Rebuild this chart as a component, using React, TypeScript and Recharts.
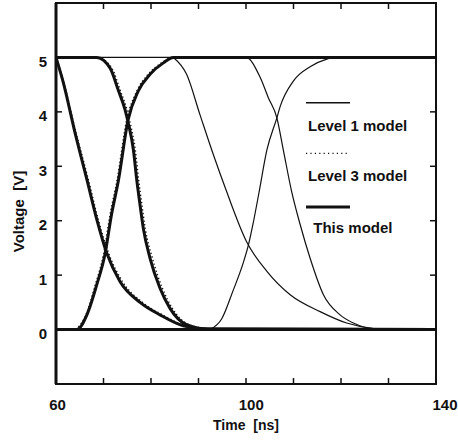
import { LineChart, Line, XAxis, YAxis, ReferenceLine, ReferenceArea, Legend, Label } from "recharts";

const FONT = "'Liberation Sans', Arial, sans-serif";
const INK = "#111";

// plot box size (frame), used to mirror tick marks on the top and right edges
const PLOT_W = 380;
const PLOT_H = 381;

const xTicks = [60, 70, 80, 90, 100, 110, 120, 130, 140];
const xLabelTicks = [60, 100, 140];
const yTicks = [0, 1, 2, 3, 4, 5];

// This model (thick)
const thisFall1T = [60, 61.5, 64, 66.5, 68.6, 70.7, 73.5, 77.7, 81.9, 86.8, 92, 140];
const thisFall1V = [5, 4.55, 3.62, 2.76, 2.02, 1.4, 0.88, 0.5, 0.27, 0.07, 0.01, 0];
const thisRiseT = [60, 64.4, 66.5, 68.6, 70.3, 71.7, 73.1, 75.2, 77.3, 79.8, 82.6, 84.7, 140];
const thisRiseV = [0, 0, 0.27, 0.83, 1.38, 2.12, 2.72, 3.86, 4.38, 4.69, 4.9, 5, 5];
const thisFall2T = [60, 68.6, 71.4, 73.1, 74.5, 75.2, 76.3, 77.0, 77.6, 78.4, 79.8, 81.9, 84.0, 87.5, 92, 140];
const thisFall2V = [5, 5, 4.8, 4.4, 4.05, 3.8, 3.3, 2.75, 2.35, 1.85, 1.31, 0.76, 0.39, 0.09, 0.01, 0];

// Level 3 model (dotted)
const lv3Fall1T = [60, 61.6, 64.2, 66.8, 68.9, 71.1, 74.0, 78.2, 82.4, 87.3, 92.5];
const lv3Fall1V = [5, 4.55, 3.62, 2.76, 2.02, 1.4, 0.88, 0.5, 0.27, 0.07, 0.01];
const lv3RiseT = [64.2, 66.3, 68.3, 70.0, 71.4, 72.8, 74.9, 77.0, 79.4, 82.2, 84.5];
const lv3RiseV = [0, 0.27, 0.83, 1.38, 2.12, 2.72, 3.86, 4.38, 4.69, 4.9, 5];
const lv3Fall2T = [68.9, 71.8, 73.5, 74.9, 75.6, 76.7, 77.4, 78.0, 78.8, 80.3, 82.4, 84.5, 88.0, 92.5];
const lv3Fall2V = [5, 4.8, 4.4, 4.05, 3.8, 3.3, 2.75, 2.35, 1.85, 1.31, 0.76, 0.39, 0.09, 0.01];

// Level 1 model (thin)
const lv1FallAT = [84.7, 87.5, 90.3, 93.1, 95.9, 100.1, 104.4, 109.3, 115.6, 121.2, 126.8, 132, 140];
const lv1FallAV = [5, 4.69, 3.95, 3.22, 2.54, 1.62, 1.07, 0.64, 0.33, 0.12, 0.02, 0, 0];
const lv1RiseT = [92.4, 94.9, 97.3, 99.4, 100.5, 101.5, 102.7, 104.4, 106.5, 107.2, 110, 113.5, 117, 118.5];
const lv1RiseV = [0, 0.2, 0.72, 1.22, 1.55, 1.95, 2.5, 3.3, 3.89, 4.1, 4.57, 4.83, 4.97, 5];
const lv1FallBT = [98, 100, 103, 104.7, 106.5, 107.9, 109.6, 111.4, 113.5, 116.3, 119.8, 122.6, 126.8, 140];
const lv1FallBV = [5, 5, 4.63, 4.26, 3.89, 3.28, 2.54, 1.93, 1.31, 0.64, 0.27, 0.12, 0.02, 0];

const pts = (t: number[], v: number[]) => t.map((x, i) => ({ t: x, v: v[i] }));

const txt = { fontFamily: FONT, fontWeight: 700, fill: INK } as const;

function BottomTick({ x, y, payload }: any) {
  const val = payload.value;
  const dx = 1.5 + ((val - 60) / 80) * 7.5;
  const inner = val !== 60 && val !== 140;
  return (
    <g>
      {inner && <line x1={x} x2={x} y1={y} y2={y - 6} stroke={INK} strokeWidth={1.5} />}
      {inner && <line x1={x} x2={x} y1={y - PLOT_H} y2={y - PLOT_H + 6} stroke={INK} strokeWidth={1.5} />}
      {xLabelTicks.includes(val) && (
        <text x={x + dx} y={y + 20} textAnchor="middle" dominantBaseline="central" fontSize={15} {...txt}>
          {val}
        </text>
      )}
    </g>
  );
}

function LeftTick({ x, y, payload }: any) {
  return (
    <g>
      <line x1={x} x2={x + 6} y1={y} y2={y} stroke={INK} strokeWidth={1.5} />
      <line x1={x + PLOT_W - 6} x2={x + PLOT_W} y1={y} y2={y} stroke={INK} strokeWidth={1.5} />
      <text x={x - 9} y={y + 4} textAnchor="end" dominantBaseline="central" fontSize={15} {...txt}>
        {payload.value}
      </text>
    </g>
  );
}

function LegendBox() {
  return (
    <svg width={130} height={150} style={{ display: "block" }}>
      <line x1={6} x2={50} y1={12.7} y2={12.7} stroke={INK} strokeWidth={1.5} />
      <text x={8} y={35} dominantBaseline="central" fontSize={15} {...txt}>Level 1 model</text>
      <line x1={6} x2={50} y1={63.3} y2={63.3} stroke={INK} strokeWidth={1.3} strokeDasharray="1.2 3.2" />
      <text x={8} y={85} dominantBaseline="central" fontSize={15} {...txt}>Level 3 model</text>
      <line x1={6} x2={50} y1={117} y2={117} stroke={INK} strokeWidth={3} />
      <text x={13.3} y={137.3} dominantBaseline="central" fontSize={15} {...txt}>This model</text>
    </svg>
  );
}

export default function App() {
  const thick = { stroke: INK, strokeWidth: 3, dot: false, type: "monotone" as const, isAnimationActive: false };
  const dotted = { stroke: INK, strokeWidth: 1.4, strokeDasharray: "1.3 2.4", dot: false, type: "monotone" as const, isAnimationActive: false };
  const thin = { stroke: INK, strokeWidth: 1.2, dot: false, type: "monotone" as const, isAnimationActive: false };

  return (
    <div style={{ position: "absolute", left: 0, top: 0, background: "#fff" }}>
      <LineChart width={458} height={442} margin={{ top: 3, right: 22, bottom: 0, left: 0 }}>
        <XAxis
          type="number"
          dataKey="t"
          domain={[60, 140]}
          ticks={xTicks}
          interval={0}
          allowDataOverflow
          height={58}
          tickSize={0}
          tickMargin={0}
          tickLine={false}
          axisLine={false}
          tick={<BottomTick />}
        >
          <Label
            content={({ viewBox }: any) => (
              <text
                x={viewBox.x + viewBox.width / 2}
                y={viewBox.y + 41}
                textAnchor="middle"
                dominantBaseline="central"
                fontSize={14}
                style={{ whiteSpace: "pre" }}
                {...txt}
              >
                {"Time  [ns]"}
              </text>
            )}
          />
        </XAxis>
        <YAxis
          type="number"
          domain={[-1, 6]}
          ticks={yTicks}
          interval={0}
          allowDataOverflow
          width={56}
          tickSize={0}
          tickMargin={0}
          tickLine={false}
          axisLine={{ stroke: INK, strokeWidth: 3 }}
          tick={<LeftTick />}
        >
          <Label
            content={({ viewBox }: any) => {
              const cx = 18;
              const cy = viewBox.y + viewBox.height / 2 + 18;
              return (
                <text
                  x={cx}
                  y={cy}
                  transform={`rotate(-90 ${cx} ${cy})`}
                  textAnchor="middle"
                  dominantBaseline="central"
                  fontSize={15}
                  style={{ whiteSpace: "pre" }}
                  {...txt}
                >
                  {"Voltage  [V]"}
                </text>
              );
            }}
          />
        </YAxis>
        <ReferenceArea x1={60} x2={140} y1={-1} y2={6} fill="none" stroke={INK} strokeWidth={2} />
        <ReferenceLine y={5} stroke={INK} strokeWidth={1.3} />
        <ReferenceLine y={0} stroke={INK} strokeWidth={3} />

        <Line data={pts(lv1FallAT, lv1FallAV)} dataKey="v" {...thin} />
        <Line data={pts(lv1RiseT, lv1RiseV)} dataKey="v" {...thin} />
        <Line data={pts(lv1FallBT, lv1FallBV)} dataKey="v" {...thin} />

        <Line data={pts(lv3Fall1T, lv3Fall1V)} dataKey="v" {...dotted} />
        <Line data={pts(lv3RiseT, lv3RiseV)} dataKey="v" {...dotted} />
        <Line data={pts(lv3Fall2T, lv3Fall2V)} dataKey="v" {...dotted} />

        <Line data={pts(thisFall1T, thisFall1V)} dataKey="v" {...thick} />
        <Line data={pts(thisRiseT, thisRiseV)} dataKey="v" {...thick} />
        <Line data={pts(thisFall2T, thisFall2V)} dataKey="v" {...thick} />

        <Legend
          layout="vertical"
          align="center"
          verticalAlign="middle"
          content={() => <LegendBox />}
          wrapperStyle={{ position: "absolute", left: 300, top: 90, width: 130, height: 150 }}
        />
      </LineChart>
    </div>
  );
}
